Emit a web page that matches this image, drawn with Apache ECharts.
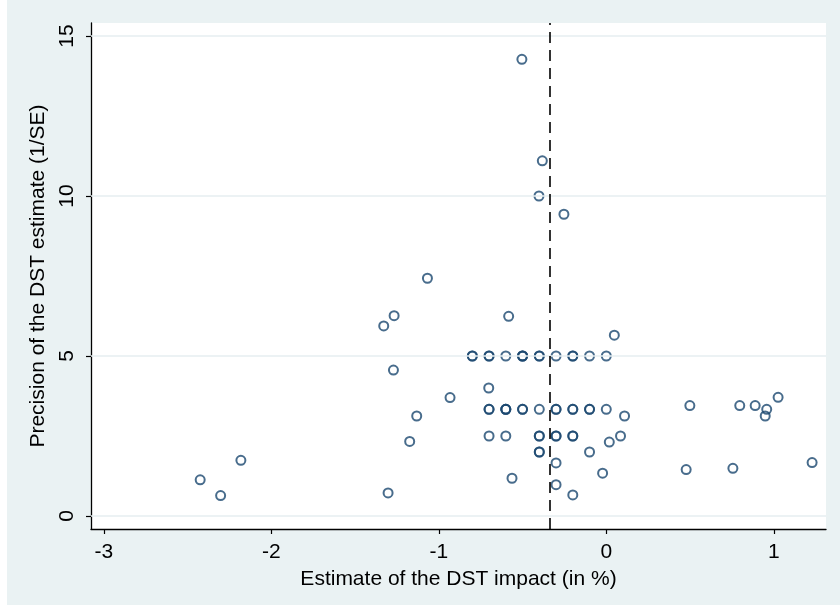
<!DOCTYPE html>
<html>
<head>
<meta charset="utf-8">
<script src="https://cdn.jsdelivr.net/npm/echarts@6/dist/echarts.min.js"></script>
<style>
html,body{margin:0;padding:0;background:#ffffff;}
#chart{width:840px;height:605px;}
</style>
</head>
<body>
<div id="chart"></div>
<script>
// Estimate of the DST impact (in %)
const estimates = [
  -2.425, -2.303, -2.182, -1.303, -1.174, -1.132, -1.068, -1.267, -1.329, -1.271,
  -0.933, -0.583, -0.504, -0.382, -0.402, -0.253, 0.048, -0.702,
  -0.8, -0.8, -0.7, -0.7, -0.6, -0.5, -0.5, -0.5, -0.4, -0.4, -0.3, -0.2, -0.2, -0.1, 0.0,
  -0.7, -0.7, -0.6, -0.6, -0.6, -0.5, -0.5, -0.4, -0.3, -0.3, -0.2, -0.2, -0.1, -0.1, 0.0,
  -0.7, -0.6, -0.4, -0.4, -0.3, -0.3, -0.2, -0.2,
  -0.4, -0.4, -0.1,
  0.109, 0.085, 0.018, -0.3, -0.563, -0.022, -0.3, -0.2,
  0.499, 0.797, 0.889, 0.958, 0.949, 1.026, 0.477, 0.756, 1.229
];
// Precision of the DST estimate (1/SE)
const precisions = [
  1.13, 0.64, 1.74, 0.72, 2.33, 3.125, 7.43, 6.26, 5.94, 4.56,
  3.70, 6.24, 14.27, 11.1, 10.0, 9.43, 5.65, 4.0,
  5, 5, 5, 5, 5, 5, 5, 5, 5, 5, 5, 5, 5, 5, 5,
  3.333, 3.333, 3.333, 3.333, 3.333, 3.333, 3.333, 3.333, 3.333, 3.333, 3.333, 3.333, 3.333, 3.333, 3.333,
  2.5, 2.5, 2.5, 2.5, 2.5, 2.5, 2.5, 2.5,
  2.0, 2.0, 2.0,
  3.125, 2.5, 2.31, 1.66, 1.18, 1.34, 0.98, 0.66,
  3.45, 3.45, 3.45, 3.333, 3.125, 3.71, 1.45, 1.49, 1.67
];
const xTicks = [-3, -2, -1, 0, 1];
const yTicks = [0, 5, 10, 15];
const meanEstimate = -0.336;

const points = estimates.map((x, i) => [x, precisions[i]]);
const FONT = '"Liberation Sans", Arial, Helvetica, sans-serif';
const NAVY = '#1a476f';

const chart = echarts.init(document.getElementById('chart'), null, {renderer: 'canvas'});
chart.setOption({
  backgroundColor: '#eaf2f3',
  animation: false,
  graphic: [
    {type: 'rect', left: 0, top: 0, shape: {width: 7, height: 605}, style: {fill: '#ffffff'}, silent: true}
  ],
  grid: {
    left: 91, right: 14, top: 23, bottom: 76,
    show: true, backgroundColor: '#ffffff', borderWidth: 0
  },
  xAxis: {
    type: 'value',
    min: -3.077, max: 1.312,
    name: 'Estimate of the DST impact (in %)',
    nameLocation: 'middle',
    nameGap: 40,
    nameTextStyle: {fontFamily: FONT, fontSize: 21, color: '#000'},
    axisLine: {show: true, onZero: false, lineStyle: {color: '#000', width: 1.3}},
    axisTick: {show: true, length: 5, customValues: xTicks, lineStyle: {color: '#000', width: 1.2}},
    axisLabel: {customValues: xTicks, fontFamily: FONT, fontSize: 21, color: '#000', margin: 13,
      formatter: v => String(v)},
    splitLine: {show: false}
  },
  yAxis: {
    type: 'value',
    min: -0.406, max: 15.406,
    name: 'Precision of the DST estimate (1/SE)',
    nameLocation: 'middle',
    nameGap: 38,
    nameRotate: 90,
    nameTextStyle: {fontFamily: FONT, fontSize: 21, color: '#000'},
    axisLine: {show: true, onZero: false, lineStyle: {color: '#000', width: 1.3}},
    axisTick: {show: true, length: 5, customValues: yTicks, lineStyle: {color: '#000', width: 1.2}},
    axisLabel: {customValues: yTicks, rotate: 90, fontFamily: FONT, fontSize: 21, color: '#000', margin: 13,
      formatter: v => String(v)},
    splitLine: {show: false}
  },
  series: [
    {
      type: 'scatter',
      data: [],
      z: 1,
      silent: true,
      markLine: {
        silent: true,
        symbol: 'none',
        label: {show: false},
        lineStyle: {color: '#e6eef1', width: 1.5, type: 'solid'},
        data: yTicks.map(v => ({yAxis: v}))
      }
    },
    {
      type: 'scatter',
      data: points,
      z: 3,
      symbol: 'circle',
      symbolSize: 9,
      itemStyle: {color: 'rgba(0,0,0,0)', borderColor: NAVY, borderWidth: 2},
      markLine: {
        silent: true,
        symbol: 'none',
        label: {show: false},
        lineStyle: {color: '#000', width: 1.6, type: [11, 7]},
        data: [{xAxis: meanEstimate}]
      }
    }
  ]
});
</script>
</body>
</html>
